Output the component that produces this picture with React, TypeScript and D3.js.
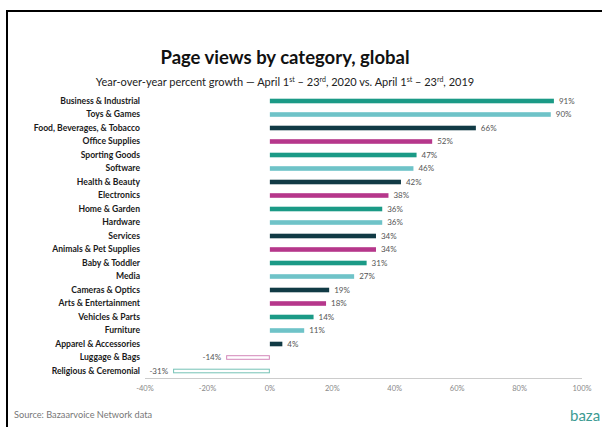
import React from "react";
import * as d3 from "d3";

const categories = [
  "Business & Industrial",
  "Toys & Games",
  "Food, Beverages, & Tobacco",
  "Office Supplies",
  "Sporting Goods",
  "Software",
  "Health & Beauty",
  "Electronics",
  "Home & Garden",
  "Hardware",
  "Services",
  "Animals & Pet Supplies",
  "Baby & Toddler",
  "Media",
  "Cameras & Optics",
  "Arts & Entertainment",
  "Vehicles & Parts",
  "Furniture",
  "Apparel & Accessories",
  "Luggage & Bags",
  "Religious & Ceremonial",
];
const values = [91, 90, 66, 52, 47, 46, 42, 38, 36, 36, 34, 34, 31, 27, 19, 18, 14, 11, 4, -14, -31];
const palette = ["#1b9a86", "#6fc3c8", "#113a45", "#b6378b"];
const ticks = [-40, -20, 0, 20, 40, 60, 80, 100];

const W = 602;
const H = 427;

export default function App() {
  const x = d3.scaleLinear().domain([-40, 100]).range([145, 582]);
  const y = d3
    .scaleBand<string>()
    .domain(categories)
    .range([94.25, 377.75])
    .paddingInner(0.66)
    .paddingOuter(0.33);
  const bh = y.bandwidth();
  const font = "Lato, 'Open Sans', sans-serif";
  return (
    <svg
      width={W}
      height={H}
      style={{ position: "absolute", left: 0, top: 0, background: "#fff" }}
      fontFamily={font}
    >
      <rect x={7} y={11} width={W + 20} height={H + 20} fill="#fff" stroke="#000" strokeWidth={2} />
      <text x={285} y={64} textAnchor="middle" fontSize={18.5} fontWeight={700} fill="#111">
        Page views by category, global
      </text>
      <text x={285} y={86} textAnchor="middle" fontSize={11} fill="#222">
        Year-over-year percent growth — April 1
        <tspan fontSize={7} dy={-4}>st</tspan>
        <tspan dy={4}> – 23</tspan>
        <tspan fontSize={7} dy={-4}>rd</tspan>
        <tspan dy={4}>, 2020 vs. April 1</tspan>
        <tspan fontSize={7} dy={-4}>st</tspan>
        <tspan dy={4}> – 23</tspan>
        <tspan fontSize={7} dy={-4}>rd</tspan>
        <tspan dy={4}>, 2019</tspan>
      </text>
      {categories.map((c, i) => {
        const v = values[i];
        const col = palette[i % 4];
        const yy = y(c)!;
        const cy = yy + bh / 2;
        const x0 = x(Math.min(0, v));
        const x1 = x(Math.max(0, v));
        return (
          <g key={c}>
            <text x={140} y={cy + 2.9} textAnchor="end" fontSize={8.6} fontWeight={700} fill="#1a1a1a">
              {c}
            </text>
            {v >= 0 ? (
              <rect x={x0} y={yy} width={x1 - x0} height={bh} fill={col} />
            ) : (
              <rect
                x={x0 + 0.5}
                y={yy + 0.5}
                width={x1 - x0 - 1}
                height={bh - 1}
                fill="#fff"
                stroke={col}
                strokeOpacity={0.6}
                strokeWidth={1}
              />
            )}
            <text
              x={v >= 0 ? x1 + 5 : x0 - 5}
              y={cy + 2.8}
              textAnchor={v >= 0 ? "start" : "end"}
              fontSize={8}
              fill="#555"
            >
              {v}%
            </text>
          </g>
        );
      })}
      <line x1={145} x2={582} y1={378.5} y2={378.5} stroke="#ccc" strokeWidth={1} />
      {ticks.map((t) => (
        <text key={t} x={x(t)} y={391} textAnchor="middle" fontSize={7.5} fill="#888">
          {t}%
        </text>
      ))}
      <text x={14} y={418} fontSize={9.2} fill="#777">
        Source: Bazaarvoice Network data
      </text>
      <text x={570} y={421} fontSize={15} fill="#3d9b93">
        baza
      </text>
    </svg>
  );
}
